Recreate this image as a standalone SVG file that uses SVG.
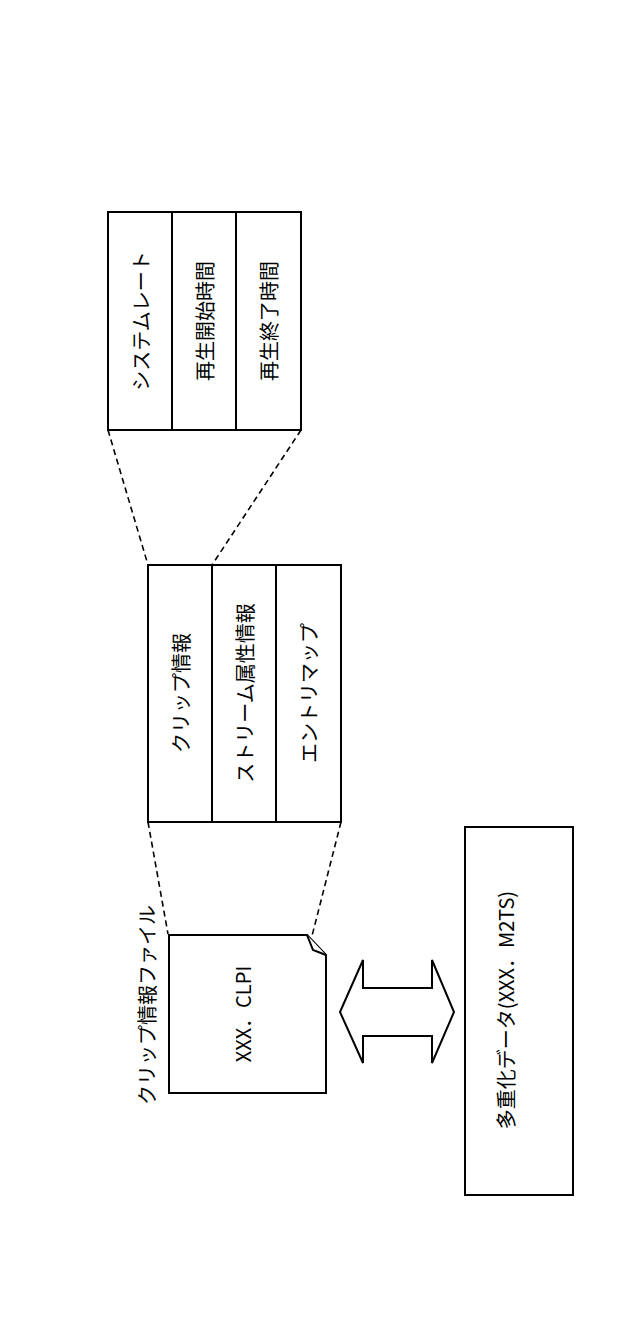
<svg xmlns="http://www.w3.org/2000/svg" width="640" height="1331" viewBox="0 0 640 1331">
<style>
.b{fill:#fff;stroke:#000;stroke-width:2}
.l{stroke:#000;stroke-width:2}
.d{stroke:#000;stroke-width:1.6;stroke-dasharray:6,4;fill:none}
text{font-family:"Noto Sans CJK JP","Liberation Sans",sans-serif;font-size:20px;text-anchor:middle;dominant-baseline:central}
</style>
<rect width="640" height="1331" fill="#fff"/>
<g id="connectors">
<path class="d" d="M108,430 L148,565 M301,430 L212,565 M148,822 L168,934 M341,822 L312,936"/>
</g>
<g id="top">
<rect class="b" x="108" y="212" width="193" height="218"/>
<line class="l" x1="172" y1="212" x2="172" y2="430"/>
<line class="l" x1="236" y1="212" x2="236" y2="430"/>
<text transform="translate(140,321) rotate(-90)">システムレート</text>
<text transform="translate(204,321) rotate(-90)">再生開始時間</text>
<text transform="translate(268,321) rotate(-90)">再生終了時間</text>
</g>
<g id="middle">
<rect class="b" x="148" y="565" width="193" height="257"/>
<line class="l" x1="212" y1="565" x2="212" y2="822"/>
<line class="l" x1="276" y1="565" x2="276" y2="822"/>
<text transform="translate(180,693) rotate(-90)">クリップ情報</text>
<text transform="translate(244,693) rotate(-90)">ストリーム属性情報</text>
<text transform="translate(308,693) rotate(-90)">エントリマップ</text>
</g>
<g id="file">
<path class="b" d="M169,935 L307,935 L326,955 L326,1093 L169,1093 Z"/>
<path class="b" d="M307,935 L313,950 L326,955" stroke-width="1.5"/>
<text transform="translate(242,1014) rotate(-90)">XXX．CLPI</text>
<text transform="translate(146,1005) rotate(-90)">クリップ情報ファイル</text>
</g>
<g id="arrow">
<path class="b" stroke-width="1.5" d="M340,1012 L363,960 L363,988 L432,988 L432,960 L454,1012 L432,1063 L432,1036 L363,1036 L363,1063 Z"/>
</g>
<g id="data">
<rect class="b" x="465" y="827" width="108" height="368"/>
<text transform="translate(505,1010) rotate(-90)">多重化データ(XXX．M2TS)</text>
</g>
</svg>
